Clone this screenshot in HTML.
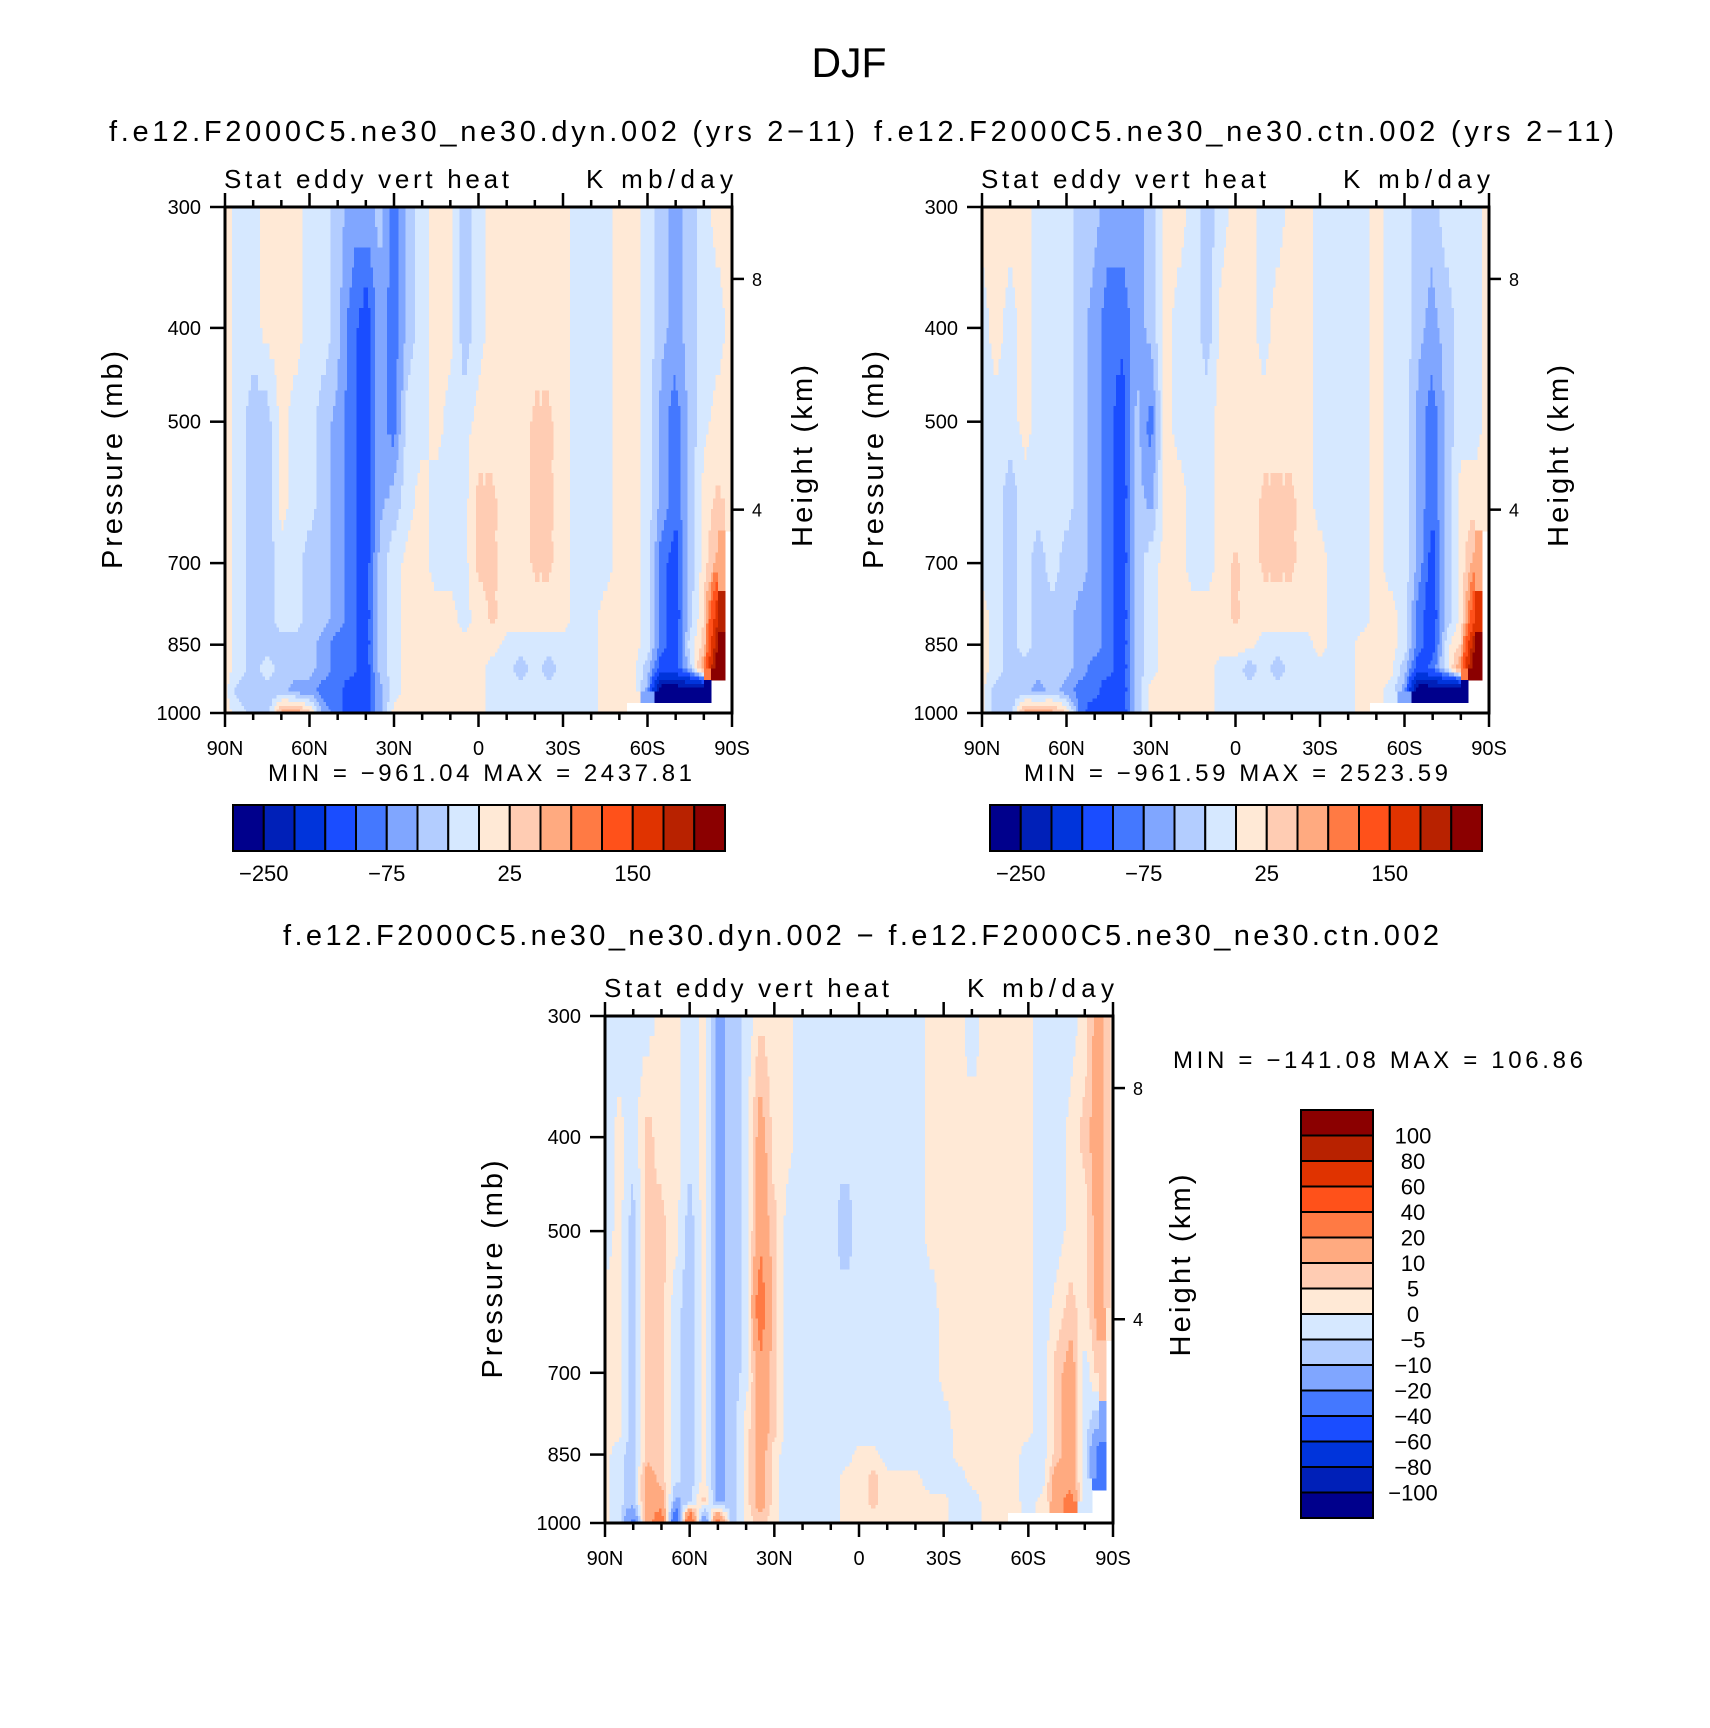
<!DOCTYPE html>
<html><head><meta charset="utf-8">
<style>
html,body{margin:0;padding:0;background:#fff;}
svg{display:block;}
text{font-family:"Liberation Sans","DejaVu Sans",sans-serif;fill:#000;}
</style></head>
<body>
<svg id="fig" width="1710" height="1728" viewBox="0 0 1710 1728" xmlns="http://www.w3.org/2000/svg">
<text x="849" y="77" font-size="42" text-anchor="middle" textLength="75" lengthAdjust="spacingAndGlyphs">DJF</text>
</svg>
<script>
// ---- data ----
const lats = [90,85,80,75,70,65,60,55,50,45,40,35,30,25,20,15,10,5,0,-5,-10,-15,-20,-25,-30,-35,-40,-45,-50,-55,-60,-65,-70,-75,-80,-85,-90];
const levels = [300,400,500,600,700,800,850,900,950,1000];
const N = null;
// panel 1: dyn  (rows = levels, cols = lats 90N..90S)
const dynValues = [
[10,-10,-10,10,10,10,-10,-10,-40,-60,-60,-40,-90,-40,-10,10,10,-40,-10,10,10,10,10,10,10,-10,-10,-10,10,10,-10,-40,-60,-40,-10,10,10],
[10,-10,-10,10,10,10,-10,-10,-40,-90,-120,-60,-90,-40,-10,10,10,-40,-10,10,10,10,10,10,10,-10,-10,-10,10,10,-10,-40,-60,-40,-10,-10,10],
[10,-10,-40,-40,10,-10,-10,-40,-60,-90,-120,-60,-90,-10,-10,10,-10,-10,10,10,10,10,30,30,10,-10,-10,-10,10,10,-10,-60,-90,-40,-10,10,10],
[10,-10,-40,-40,10,-10,-10,-40,-60,-90,-120,-60,-40,-10,10,-10,-10,-10,30,30,10,10,30,30,10,-10,-10,-10,10,10,-10,-60,-90,-40,10,30,10],
[10,-10,-40,-40,-10,-10,-40,-40,-60,-90,-120,-40,-10,10,10,-10,-10,-10,30,30,10,10,30,30,10,-10,-10,-10,10,10,-10,-90,-120,-40,10,60,N],
[10,-10,-40,-40,-10,-10,-40,-40,-60,-90,-120,-40,-10,10,10,10,10,-10,10,30,10,10,10,10,10,-10,-10,10,10,10,-10,-90,-120,-40,30,200,N],
[10,-10,-40,-40,-40,-40,-40,-60,-90,-90,-120,-40,-10,10,10,10,10,10,10,10,-10,-10,-10,-10,-10,-10,-10,10,10,10,-10,-90,-120,-10,30,250,N],
[10,-10,-40,-10,-40,-40,-40,-60,-90,-90,-120,-40,-10,10,10,10,10,10,10,-10,-10,-40,-10,-40,-10,-10,-10,10,10,10,-40,-120,-120,-40,80,300,N],
[10,-40,-40,-40,-40,-60,-60,-90,-90,-120,-120,-60,-10,10,10,10,10,10,10,-10,-10,-10,-10,-10,-10,-10,-10,10,10,10,-60,-300,-300,-300,-300,N,N],
[10,-10,-40,-40,60,80,30,-60,-90,-120,-120,-60,10,10,10,10,10,10,10,-10,-10,-10,-10,-10,-10,-10,-10,10,10,N,N,N,N,N,N,N,N]
];
// panel 2: ctn
const ctnValues = [
[10,10,10,10,-10,-10,-10,-40,-40,-60,-60,-60,-40,10,10,-10,-40,-10,10,10,-10,-10,10,10,-10,-10,-10,-10,10,-10,-10,-40,-40,-10,-10,-10,10],
[-10,10,-10,10,-10,-10,-10,-40,-60,-90,-90,-60,-40,10,-10,-10,-40,10,10,10,-10,10,10,10,-10,-10,-10,-10,10,-10,-10,-40,-60,-40,-10,-10,10],
[-10,-10,-10,10,-10,-10,-10,-40,-60,-90,-120,-40,-90,10,-10,-10,-10,10,10,10,10,10,10,10,-10,-10,-10,-10,10,-10,-10,-60,-90,-40,-10,-10,10],
[-10,-10,-40,-10,-10,-10,-10,-40,-60,-90,-120,-40,-60,10,10,-10,-10,10,10,10,30,30,30,10,-10,-10,-10,-10,10,-10,-10,-60,-90,-40,10,10,10],
[-10,-10,-40,-10,-40,-10,-40,-40,-60,-90,-120,-40,-10,10,10,-10,-10,10,30,10,30,30,30,10,10,-10,-10,-10,10,-10,-10,-60,-120,-40,10,60,N],
[10,-10,-40,-10,-40,-40,-40,-60,-60,-90,-120,-40,-10,10,10,10,10,10,30,10,10,10,10,10,10,-10,-10,-10,10,10,-10,-90,-120,-40,10,150,N],
[10,-10,-40,-10,-40,-40,-40,-60,-60,-90,-120,-40,-10,10,10,10,10,10,10,10,-10,-10,-10,-10,10,-10,-10,10,10,10,-10,-90,-120,-10,30,250,N],
[10,-10,-40,-40,-40,-40,-40,-60,-90,-90,-120,-40,-10,10,10,10,10,-10,-10,-40,-10,-40,-10,-10,-10,-10,-10,10,10,10,-40,-120,-90,-10,80,300,N],
[10,-40,-40,-40,-60,-40,-60,-90,-90,-120,-120,-40,10,10,10,10,10,-10,-10,-10,-10,-10,-10,-10,-10,-10,-10,10,10,-10,-60,-300,-300,-300,-300,N,N],
[10,-40,-40,60,80,60,30,-90,-120,-120,-120,-40,10,10,10,10,10,-10,-10,-10,-10,-10,-10,-10,-10,-10,-10,10,N,N,N,N,N,N,N,N,N]
];
// panel 3: dyn - ctn
const diffValues = [
[-3,-3,-3,-3,2,2,-3,2,-12,-8,-3,3,2,2,-3,-3,-3,-3,-3,-3,-3,-3,-3,2,2,2,-3,2,2,2,2,-3,-3,-3,2,15,2],
[-3,2,-3,7,2,2,-3,2,-12,-8,-3,15,2,2,-3,-3,-3,-3,-3,-3,-3,-3,-3,2,2,2,2,2,2,2,2,-3,-3,2,7,15,2],
[-3,2,-8,7,7,2,-8,2,-12,-8,-3,15,7,-3,-3,-3,-3,-8,-3,-3,-3,-3,-3,2,2,2,2,2,2,2,2,-3,-3,2,2,15,2],
[2,2,-8,7,7,-3,-8,2,-12,-8,-3,30,7,-3,-3,-3,-3,-3,-3,-3,-3,-3,-3,-3,2,2,2,2,2,2,2,-3,2,7,2,15,2],
[2,2,-8,7,7,-3,-8,2,-12,-8,-3,15,7,-3,-3,-3,-3,-3,-3,-3,-3,-3,-3,-3,2,2,2,2,2,2,2,-3,7,15,-3,7,N],
[2,2,-8,7,7,-3,-8,2,-12,-8,2,15,7,-3,-3,-3,-3,-3,-3,-3,-3,-3,-3,-3,-3,2,2,2,2,2,2,-3,7,15,-3,-12,N],
[2,-3,-8,7,7,-3,-8,2,-12,-8,2,15,2,-3,-3,-3,-3,-3,2,2,-3,-3,-3,-3,-3,2,2,2,2,2,-3,-3,7,15,-3,-25,N],
[2,-3,-8,15,7,-3,-8,2,-12,-8,2,15,2,-3,-3,-3,-3,2,2,7,2,2,2,-3,-3,-3,2,2,2,2,-3,-3,15,15,-3,-25,N],
[2,-3,-8,15,15,-12,-8,7,-12,-8,2,15,2,-3,-3,-3,-3,2,2,7,2,2,2,2,2,-3,-3,2,2,2,-3,2,15,25,-3,N,N],
[2,-3,-25,15,30,-40,45,-25,30,-8,2,7,2,-3,-3,-3,-3,2,2,2,2,2,2,2,2,-3,-3,2,2,N,N,N,N,N,N,N,N]
];
const mainBounds = [-250,-200,-150,-100,-75,-50,-25,0,25,50,75,100,150,200,250];
const mainLabels = ["−250","−75","25","150"];
const mainLabelIdx = [0,4,8,12];
const diffBounds = [-100,-80,-60,-40,-20,-10,-5,0,5,10,20,40,60,80,100];
const diffLabels = ["−100","−80","−60","−40","−20","−10","−5","0","5","10","20","40","60","80","100"];
const latTicks = [90,60,30,0,-30,-60,-90];
const latTickLabels = ["90N","60N","30N","0","30S","60S","90S"];
const presTicks = [300,400,500,700,850,1000];
const heightTicks = [8,4];
const colors = ["#00008c","#0020b8","#0034db","#1a4dff","#4478ff","#80a6ff","#b3cdff","#d6e8ff","#ffe9d6","#ffccb3","#ffaa80","#ff7a44","#ff511a","#e03300","#b82200","#8b0000"];

const NS="http://www.w3.org/2000/svg";
const svg=document.getElementById('fig');
function el(tag,attrs,parent){const e=document.createElementNS(NS,tag);for(const k in attrs)e.setAttribute(k,attrs[k]);(parent||svg).appendChild(e);return e;}
function txt(x,y,s,size,anchor,parent,extra){const t=el('text',Object.assign({x:x,y:y,'font-size':size,'text-anchor':anchor||'start'},extra||{}),parent);t.textContent=s;return t;}
function classify(v,b){if(v===null)return null;let i=0;while(i<b.length&&v>=b[i])i++;return i;}
// standard atmosphere pressure (mb) at height z (km)
function stdP(zkm){return 1013.25*Math.pow(1-2.25577e-5*zkm*1000,5.25588);}

function panel(P,values,bounds,name){
  const g=el('g',{});
  
  
  const xS=lat=>P.x0+(90-lat)/180*(P.x1-P.x0);
  const lp0=Math.log(300),lp1=Math.log(1000);
  const yS=p=>P.y0+(Math.log(p)-lp0)/(lp1-lp0)*(P.y1-P.y0);
  const cells=el('g',{'shape-rendering':'crispEdges'},g);
  
  
  const SX=6,SY=6;
  for(let j=0;j<levels.length-1;j++){
    for(let i=0;i<lats.length-1;i++){
      const a=values[j][i],b=values[j][i+1],c=values[j+1][i],d=values[j+1][i+1];
      const xa=xS(lats[i]),xb=xS(lats[i+1]),ya=yS(levels[j]),yb=yS(levels[j+1]);
      for(let sy=0;sy<SY;sy++){
        let run=null,runStart=0;
        const fy=(sy+0.5)/SY;
        const flush=(endX)=>{ if(run!==null && run!==-1){
            const r=el('rect',{x:runStart.toFixed(2),y:(ya+(yb-ya)*sy/SY).toFixed(2),width:(endX-runStart+0.6).toFixed(2),height:((yb-ya)/SY+0.6).toFixed(2),fill:colors[run]},cells);
            
            
          }};
        for(let sx=0;sx<SX;sx++){
          const fx=(sx+0.5)/SX;
          let v;
          if(a===null||b===null||c===null||d===null){
            v=[[a,fx+fy],[b,(1-fx)+fy],[c,fx+(1-fy)],[d,(1-fx)+(1-fy)]].sort((p,q)=>p[1]-q[1])[0][0];
          } else v=a*(1-fx)*(1-fy)+b*fx*(1-fy)+c*(1-fx)*fy+d*fx*fy;
          const k=v===null?-1:classify(v,bounds);
          const x=xa+(xb-xa)*sx/SX;
          if(k!==run){flush(x);run=k;runStart=x;}
        }
        flush(xb);
      }
    }
  }
  const fr=el('rect',{x:P.x0,y:P.y0,width:P.x1-P.x0,height:P.y1-P.y0,fill:'none',stroke:'#000','stroke-width':3},g);
  
  
  for(let lat=90;lat>=-90;lat-=10){
    const x=xS(lat),major=lat%30===0,L=major?14:7;
    el('line',{x1:x,y1:P.y0,x2:x,y2:P.y0-L,stroke:'#000','stroke-width':2.5},g);
    el('line',{x1:x,y1:P.y1,x2:x,y2:P.y1+L,stroke:'#000','stroke-width':2.5},g);
  }
  latTicks.forEach((lat,i)=>{const t=txt(xS(lat),P.y1+42,latTickLabels[i],20,'middle',g);
    });
  presTicks.forEach(p=>{const y=yS(p);
    el('line',{x1:P.x0,y1:y,x2:P.x0-15,y2:y,stroke:'#000','stroke-width':2.5},g);
    const t=txt(P.x0-24,y+7,String(p),20,'end',g);
    });
  heightTicks.forEach(h=>{const y=yS(stdP(h));
    el('line',{x1:P.x1,y1:y,x2:P.x1+12,y2:y,stroke:'#000','stroke-width':2.5},g);
    const t=txt(P.x1+20,y+7,String(h),18,'start',g);
    });
  const cy=(P.y0+P.y1)/2;
  const pl=txt(0,0,'Pressure (mb)',29,'middle',g,{transform:`translate(${P.px},${cy}) rotate(-90)`,textLength:218,lengthAdjust:'spacing'});
  
  const hl=txt(0,0,'Height (km)',29,'middle',g,{transform:`translate(${P.hx},${cy-4}) rotate(-90)`,textLength:182,lengthAdjust:'spacing'});
  
  const s1=txt(P.x0-1,P.y0-19,'Stat eddy vert heat',26,'start',g,{textLength:285,lengthAdjust:'spacing'});
  
  const s2=txt(P.x1+1,P.y0-19,'K mb/day',26,'end',g,{textLength:147,lengthAdjust:'spacing'});
  
}

function hbar(x0,x1,y0,y1,name,minmax,mx){
  const g=el('g',{});
  
  
  const w=(x1-x0)/colors.length;
  colors.forEach((c,i)=>{const r=el('rect',{x:x0+i*w,y:y0,width:w,height:y1-y0,fill:c,stroke:'#000','stroke-width':2},g);
    });
  mainLabelIdx.forEach((k,i)=>{const t=txt(x0+(k+1)*w,y1+30,mainLabels[i],22,'middle',g);
    });
  const m=txt(mx,y0-24,minmax,24,'middle',g,{textLength:424,lengthAdjust:'spacing','xml:space':'preserve'});
  
}

panel({x0:225,x1:732,y0:207,y1:713,px:122,hx:812},dynValues,mainBounds,'dyn-panel');
panel({x0:982,x1:1489,y0:207,y1:713,px:883,hx:1568},ctnValues,mainBounds,'ctn-panel');
panel({x0:605,x1:1113,y0:1016,y1:1523,px:502,hx:1190},diffValues,diffBounds,'diff-panel');

hbar(233,725,805,851,'dyn-colorbar','MIN = −961.04   MAX = 2437.81',480);
hbar(990,1482,805,851,'ctn-colorbar','MIN = −961.59   MAX = 2523.59',1236);

(function(){
  const g=el('g',{});
  
  
  const x0=1301,x1=1373,y0=1110,y1=1518,h=(y1-y0)/colors.length;
  colors.slice().reverse().forEach((c,i)=>{const r=el('rect',{x:x0,y:y0+i*h,width:x1-x0,height:h,fill:c,stroke:'#000','stroke-width':2},g);
    });
  diffLabels.slice().reverse().forEach((s,i)=>{const t=txt(1413,y0+(i+1)*h+8,s,22,'middle',g);
    });
  const m=txt(1378,1068,'MIN = −141.08   MAX = 106.86',24,'middle',g,{textLength:410,lengthAdjust:'spacing','xml:space':'preserve'});
  
})();

const t1=txt(482,141,'f.e12.F2000C5.ne30_ne30.dyn.002 (yrs 2−11)',29,'middle',null,{textLength:746,lengthAdjust:'spacing'});

const t2=txt(1244,141,'f.e12.F2000C5.ne30_ne30.ctn.002 (yrs 2−11)',29,'middle',null,{textLength:740,lengthAdjust:'spacing'});

const t3=txt(861,945,'f.e12.F2000C5.ne30_ne30.dyn.002 − f.e12.F2000C5.ne30_ne30.ctn.002',29,'middle',null,{textLength:1156,lengthAdjust:'spacing'});

</script>
</body></html>
